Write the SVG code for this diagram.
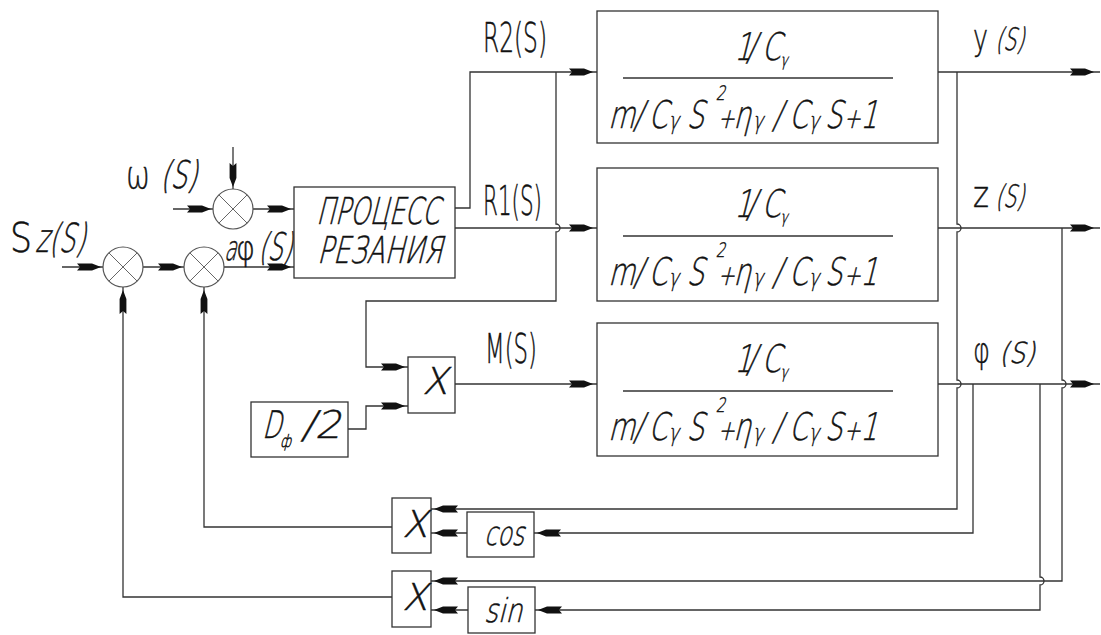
<svg xmlns="http://www.w3.org/2000/svg" xmlns:xlink="http://www.w3.org/1999/xlink" width="1101" height="635" viewBox="0 0 1101 635">
<style>
.ln{fill:none;stroke:#333;stroke-width:1.3}
.bx{fill:#fff;stroke:#333;stroke-width:1.3}
.cr{fill:#fff;stroke:#555;stroke-width:1.2}
.cx{stroke:#666;stroke-width:1}
.ah{fill:#111}
text{font-family:"DejaVu Sans","Liberation Sans",sans-serif;fill:#111;font-weight:200;stroke:#111;stroke-width:0.5}
</style>
<defs>
<path id="ah" d="M0,0 L-9,-3.4 L-24,-3.4 L-21,0 L-24,3.4 L-9,3.4 Z"/>
</defs>
<rect width="1101" height="635" fill="#fff"/>
<g id="connectors">
<path class="ln" d="M233,147 V189"/>
<path class="ln" d="M173,209 H213"/>
<path class="ln" d="M253,209 H294"/>
<path class="ln" d="M62,267 H103"/>
<path class="ln" d="M143,267 H184"/>
<path class="ln" d="M224,267 H294"/>
<path class="ln" d="M455,208 H470 V72 H597"/>
<path class="ln" d="M455,228 H597"/>
<path class="ln" d="M556,72 V224 A4,4 0 0 1 556,232 V301 H366 V367 H408"/>
<path class="ln" d="M348,429 H366 V406 H408"/>
<path class="ln" d="M455,384 H597"/>
<path class="ln" d="M938,72 H1100"/>
<path class="ln" d="M938,228 H1100"/>
<path class="ln" d="M938,384 H1100"/>
<path class="ln" d="M957,72 V224 A4,4 0 0 1 957,232 V380 A4,4 0 0 1 957,388 V509 H431"/>
<path class="ln" d="M973,384 V533 H534"/>
<path class="ln" d="M1062,228 V380 A4,4 0 0 1 1062,388 V581 H431"/>
<path class="ln" d="M1040,384 V577 A4,4 0 0 1 1040,585 V610 H535"/>
<path class="ln" d="M467,533 H431"/>
<path class="ln" d="M468,610 H431"/>
<path class="ln" d="M392,527 H204 V287"/>
<path class="ln" d="M392,597 H123 V287"/>
<g class="ah">
<use xlink:href="#ah" transform="translate(233,187) rotate(90)"/>
<use xlink:href="#ah" transform="translate(211,209)"/>
<use xlink:href="#ah" transform="translate(291,209)"/>
<use xlink:href="#ah" transform="translate(101,267)"/>
<use xlink:href="#ah" transform="translate(182,267)"/>
<use xlink:href="#ah" transform="translate(291,267)"/>
<use xlink:href="#ah" transform="translate(593,72)"/>
<use xlink:href="#ah" transform="translate(593,228)"/>
<use xlink:href="#ah" transform="translate(593,384)"/>
<use xlink:href="#ah" transform="translate(405,367)"/>
<use xlink:href="#ah" transform="translate(405,406)"/>
<use xlink:href="#ah" transform="translate(1094,72)"/>
<use xlink:href="#ah" transform="translate(1094,228)"/>
<use xlink:href="#ah" transform="translate(1094,384)"/>
<use xlink:href="#ah" transform="translate(434,509) rotate(180)"/>
<use xlink:href="#ah" transform="translate(434,533) rotate(180)"/>
<use xlink:href="#ah" transform="translate(537,533) rotate(180)"/>
<use xlink:href="#ah" transform="translate(434,581) rotate(180)"/>
<use xlink:href="#ah" transform="translate(434,610) rotate(180)"/>
<use xlink:href="#ah" transform="translate(538,610) rotate(180)"/>
<use xlink:href="#ah" transform="translate(123,290) rotate(-90)"/>
<use xlink:href="#ah" transform="translate(204,290) rotate(-90)"/>
</g>
</g>
<g id="labels">
<text x="126" y="188" font-size="38" textLength="24" lengthAdjust="spacingAndGlyphs">ω</text>
<text transform="translate(160,188) skewX(-14)" font-size="38" textLength="37" lengthAdjust="spacingAndGlyphs">(S)</text>
<text x="10" y="252" font-size="40" textLength="22" lengthAdjust="spacingAndGlyphs">S</text>
<text transform="translate(35,252) skewX(-14)" font-size="40" textLength="50" lengthAdjust="spacingAndGlyphs">z(S)</text>
<text transform="translate(224,260) skewX(-14)" font-size="34" textLength="12" lengthAdjust="spacingAndGlyphs">a</text>
<text x="236" y="260" font-size="34" textLength="19" lengthAdjust="spacingAndGlyphs">φ</text>
<text transform="translate(258,260) skewX(-14)" font-size="38" textLength="34" lengthAdjust="spacingAndGlyphs">(S)</text>
<text x="483" y="52" font-size="40" textLength="64" lengthAdjust="spacingAndGlyphs">R2(S)</text>
<text x="483" y="215" font-size="40" textLength="59" lengthAdjust="spacingAndGlyphs">R1(S)</text>
<text x="485" y="363" font-size="40" textLength="52" lengthAdjust="spacingAndGlyphs">M(S)</text>
<text x="973" y="50" font-size="36" textLength="15" lengthAdjust="spacingAndGlyphs">y</text>
<text transform="translate(995,50) skewX(-14)" font-size="31" textLength="29" lengthAdjust="spacingAndGlyphs">(S)</text>
<text x="973" y="207" font-size="36" textLength="16" lengthAdjust="spacingAndGlyphs">z</text>
<text transform="translate(995,207) skewX(-14)" font-size="31" textLength="29" lengthAdjust="spacingAndGlyphs">(S)</text>
<text x="973" y="363" font-size="36" textLength="17" lengthAdjust="spacingAndGlyphs">φ</text>
<text transform="translate(999,363) skewX(-14)" font-size="29" textLength="36" lengthAdjust="spacingAndGlyphs">(S)</text>
</g>
<g id="sum1"><circle class="cr" cx="233" cy="209" r="20"/><path class="cx" d="M219,195 L247,223 M247,195 L219,223"/></g>
<g id="sum2"><circle class="cr" cx="123" cy="267" r="20"/><path class="cx" d="M109,253 L137,281 M137,253 L109,281"/></g>
<g id="sum3"><circle class="cr" cx="204" cy="267" r="20"/><path class="cx" d="M190,253 L218,281 M218,253 L190,281"/></g>
<g id="process">
<rect class="bx" x="294" y="187" width="161" height="91"/>
<text transform="translate(316,224) skewX(-14)" font-size="37" textLength="123" lengthAdjust="spacingAndGlyphs">ПРОЦЕСС</text>
<text transform="translate(317,263) skewX(-14)" font-size="37" textLength="125" lengthAdjust="spacingAndGlyphs">РЕЗАНИЯ</text>
</g>
<g id="block1">
<rect class="bx" x="597" y="11" width="341" height="132"/>
<path class="ln" d="M623,78 H893"/>
<g transform="translate(737,60) skewX(-14) scale(0.72,1)" font-size="38">
<text x="-4">1</text><text x="13">/</text><text x="34">C</text><text x="62" y="6" font-size="17">γ</text>
</g>
<g transform="translate(608,128) skewX(-14) scale(0.72,1)" font-size="38">
<text x="0">m</text><text x="35">/</text><text x="56">C</text><text x="84" y="1" font-size="24">γ</text><text x="109">S</text><text x="140" y="-28" font-size="20">2</text><text x="152" font-size="28">+</text><text x="174">η</text><text x="201" y="1" font-size="24">γ</text><text x="228">/</text><text x="251">C</text><text x="279" y="1" font-size="24">γ</text><text x="301">S</text><text x="327" font-size="28">+</text><text x="350">1</text>
</g>
</g>
<g id="block2">
<rect class="bx" x="597" y="168" width="341" height="133"/>
<path class="ln" d="M623,236 H893"/>
<g transform="translate(737,217) skewX(-14) scale(0.72,1)" font-size="38">
<text x="-4">1</text><text x="13">/</text><text x="34">C</text><text x="62" y="6" font-size="17">γ</text>
</g>
<g transform="translate(608,285) skewX(-14) scale(0.72,1)" font-size="38">
<text x="0">m</text><text x="35">/</text><text x="56">C</text><text x="84" y="1" font-size="24">γ</text><text x="109">S</text><text x="140" y="-28" font-size="20">2</text><text x="152" font-size="28">+</text><text x="174">η</text><text x="201" y="1" font-size="24">γ</text><text x="228">/</text><text x="251">C</text><text x="279" y="1" font-size="24">γ</text><text x="301">S</text><text x="327" font-size="28">+</text><text x="350">1</text>
</g>
</g>
<g id="block3">
<rect class="bx" x="597" y="323" width="341" height="133"/>
<path class="ln" d="M623,391 H893"/>
<g transform="translate(737,372) skewX(-14) scale(0.72,1)" font-size="38">
<text x="-4">1</text><text x="13">/</text><text x="34">C</text><text x="62" y="6" font-size="17">γ</text>
</g>
<g transform="translate(608,440) skewX(-14) scale(0.72,1)" font-size="38">
<text x="0">m</text><text x="35">/</text><text x="56">C</text><text x="84" y="1" font-size="24">γ</text><text x="109">S</text><text x="140" y="-28" font-size="20">2</text><text x="152" font-size="28">+</text><text x="174">η</text><text x="201" y="1" font-size="24">γ</text><text x="228">/</text><text x="251">C</text><text x="279" y="1" font-size="24">γ</text><text x="301">S</text><text x="327" font-size="28">+</text><text x="350">1</text>
</g>
</g>
<g id="multM">
<rect class="bx" x="408" y="357" width="47" height="56"/>
<text transform="translate(435,394) skewX(-14)" font-size="37" text-anchor="middle">X</text>
</g>
<g id="dphi">
<rect class="bx" x="251" y="402" width="97" height="55"/>
<text transform="translate(262,438) skewX(-14)" font-size="38" textLength="19" lengthAdjust="spacingAndGlyphs">D</text>
<text transform="translate(280,447) skewX(-14)" font-size="17" textLength="11" lengthAdjust="spacingAndGlyphs">ф</text>
<text transform="translate(301,438) skewX(-14)" font-size="38" textLength="40" lengthAdjust="spacingAndGlyphs">/2</text>
</g>
<g id="mult1">
<rect class="bx" x="392" y="498" width="39" height="55"/>
<text transform="translate(415,537) skewX(-14)" font-size="37" text-anchor="middle">X</text>
</g>
<g id="cos">
<rect class="bx" x="467" y="512" width="67" height="45"/>
<text transform="translate(484,545) skewX(-14)" font-size="33" textLength="40" lengthAdjust="spacingAndGlyphs">cos</text>
</g>
<g id="mult2">
<rect class="bx" x="392" y="571" width="39" height="56"/>
<text transform="translate(415,610) skewX(-14)" font-size="37" text-anchor="middle">X</text>
</g>
<g id="sin">
<rect class="bx" x="468" y="587" width="67" height="46"/>
<text transform="translate(484,622) skewX(-14)" font-size="33" textLength="38" lengthAdjust="spacingAndGlyphs">sin</text>
</g>
</svg>
